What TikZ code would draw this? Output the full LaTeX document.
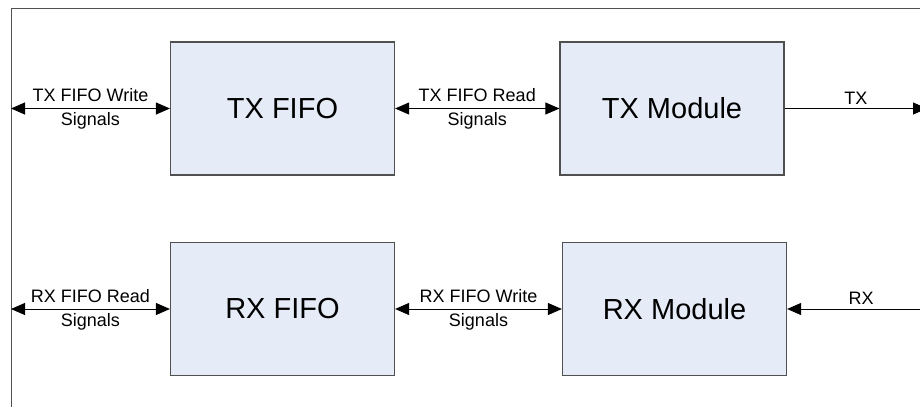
\documentclass[tikz,border=0pt]{standalone}
\usepackage{fontspec}
\setmainfont{Liberation Sans}
\usetikzlibrary{arrows.meta}
\definecolor{boxblue}{RGB}{230,236,247}
\definecolor{edgegray}{RGB}{80,80,80}
\begin{document}
\begin{tikzpicture}[x=1pt,y=-1pt,
  block/.style={draw=edgegray,line width=1.2pt,fill=boxblue,minimum width=224pt,minimum height=133pt,
    inner sep=0pt,font=\fontsize{29}{32}\selectfont},
  sig/.style={line width=0.9pt,{Triangle[length=14pt,width=12pt]}-{Triangle[length=14pt,width=12pt]}},
  sigout/.style={line width=0.9pt,-{Triangle[length=14pt,width=12pt]}},
  lbl/.style={font=\fontsize{18}{20}\selectfont,inner sep=4pt}]
  \useasboundingbox (0,0) rectangle (920,407);
  % frame
  \draw[edgegray,line width=1pt] (11,407) -- (11,8) -- (925,8);
  % (a) transmit path
  \node[block] (txfifo) at (282.5,108.5) {TX FIFO};
  \node[block] (txmod) at (672,108.5) {TX Module};
  \coordinate (txin) at (11,108.5);
  \coordinate (txout) at (927,108.5);
  \draw[sig] (txin) -- (txfifo.west)
    node[lbl,midway,above=2pt] {TX FIFO Write} node[lbl,midway,below] {Signals};
  \draw[sig] (txfifo.east) -- (txmod.west)
    node[lbl,midway,above=2pt] {TX FIFO Read} node[lbl,midway,below] {Signals};
  \draw[sigout] (txmod.east) -- (txout) node[lbl,midway,above=0pt] {TX};
  % (b) receive path
  \node[block] (rxfifo) at (282.5,309) {RX FIFO};
  \node[block] (rxmod) at (674.5,309) {RX Module};
  \coordinate (rxout) at (11,309);
  \coordinate (rxin) at (935,309);
  \draw[sig] (rxout) -- (rxfifo.west)
    node[lbl,midway,above=2pt] {RX FIFO Read} node[lbl,midway,below] {Signals};
  \draw[sig] (rxfifo.east) -- (rxmod.west)
    node[lbl,midway,above=2pt] {RX FIFO Write} node[lbl,midway,below] {Signals};
  \draw[sigout] (rxin) -- (rxmod.east) node[lbl,midway,above=0pt] {RX};
\end{tikzpicture}
\end{document}
